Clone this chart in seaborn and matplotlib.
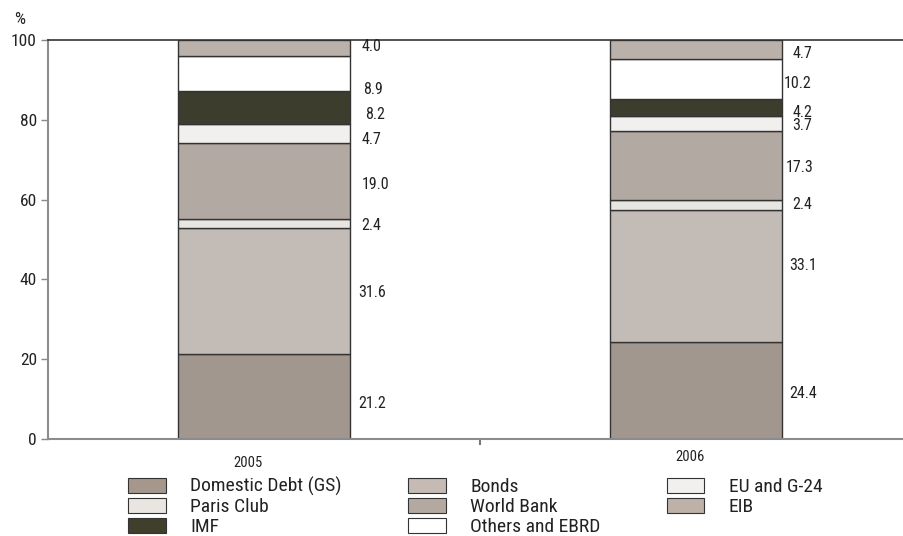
import matplotlib
matplotlib.use("Agg")
import matplotlib.pyplot as plt
from matplotlib import font_manager
from matplotlib.patches import Patch
from matplotlib.transforms import blended_transform_factory
import seaborn as sns
import pandas as pd
import numpy as np

# Debt structure by creditor, share of total (%)
years = ["2005", "2006"]
series = ["Domestic Debt (GS)", "Bonds", "Paris Club", "World Bank",
          "EU and G-24", "IMF", "Others and EBRD", "EIB"]
domestic_debt = [21.2, 24.4]
bonds = [31.6, 33.1]
paris_club = [2.4, 2.4]
world_bank = [19.0, 17.3]
eu_g24 = [4.7, 3.7]
imf = [8.2, 4.2]
others_ebrd = [8.9, 10.2]
eib = [4.0, 4.7]
values = [domestic_debt, bonds, paris_club, world_bank, eu_g24, imf, others_ebrd, eib]

colors = {
    "Domestic Debt (GS)": "#a5978b",
    "Bonds": "#c5bab4",
    "Paris Club": "#e9e6e1",
    "World Bank": "#b4a9a0",
    "EU and G-24": "#f1f0ee",
    "IMF": "#3f3f2b",
    "Others and EBRD": "#ffffff",
    "EIB": "#bdb1a8",
}
legend_order = ["Domestic Debt (GS)", "Paris Club", "IMF",
                "Bonds", "World Bank", "Others and EBRD",
                "EU and G-24", "EIB"]

# value-label placement relative to the bar's right edge / segment centre (pixels)
label_dx = [[8, 8, 11, 11, 11, 15, 13, 11],
            [7, 7, 10, 3, 10, 10, 1, 10]]
label_dy = [[6.4, 1.4, 2.4, 3.4, 6.4, 6.4, 15.4, -1.6],
            [3.4, -10.6, -0.6, 2.4, 2.4, 4.4, 4.4, 4.4]]

sns.set_theme(style="white")
available = {f.name for f in font_manager.fontManager.ttflist}
family = [f for f in ["Liberation Sans Narrow", "Roboto Condensed"] if f in available]
plt.rcParams["font.family"] = family + ["DejaVu Sans"]
plt.rcParams["text.color"] = "#222222"

W, H = 904, 536
fig = plt.figure(figsize=(W / 100, H / 100), dpi=100)
ax = fig.add_axes([48 / W, 1 - 439 / H, 856 / W, 399 / H])

edge = "#333333"
px = 0.72  # points per pixel at 100 dpi
bottom = np.zeros(len(years))
for k, (name, vals) in enumerate(zip(series, values)):
    df = pd.DataFrame({"year": years, "share": vals})
    sns.barplot(data=df, x="year", y="share", order=years, color=colors[name],
                width=0.4, bottom=bottom.copy(), edgecolor=edge, linewidth=1.0,
                errorbar=None, ax=ax)
    for i, v in enumerate(vals):
        ax.annotate(f"{v:.1f}", xy=(i + 0.2, bottom[i] + v / 2),
                    xytext=(label_dx[i][k] * px, -label_dy[i][k] * px),
                    textcoords="offset points",
                    ha="left", va="center", fontsize=11.5, color="#222222")
    bottom += np.array(vals)

ax.set_xlim(-0.5, -0.5 + 856 / 432)
ax.set_ylim(0, 100)
ax.set_yticks([0, 20, 40, 60, 80, 100])
ax.set_xticks([0.5])
ax.set_xticklabels([""])
ax.set_xlabel("")
ax.set_ylabel("")
ax.tick_params(axis="y", which="both", left=True, length=5, width=1,
               color="#888888", labelsize=12.5, labelcolor="#222222", pad=3)
ax.tick_params(axis="x", bottom=True, length=4, width=1.5, color="#777777")
for s in ["left", "bottom"]:
    ax.spines[s].set_color("#8c8c8c")
    ax.spines[s].set_linewidth(1.5)
ax.spines["top"].set_color("#333333")
ax.spines["top"].set_linewidth(1.2)
ax.spines["right"].set_visible(False)

trans = blended_transform_factory(ax.transData, fig.transFigure)
ax.text(-0.037, 1 - 463 / H, years[0], transform=trans, ha="center", va="center", fontsize=10.5)
ax.text(0.986, 1 - 457 / H, years[1], transform=trans, ha="center", va="center", fontsize=10.5)
fig.text(14 / W, 1 - 19 / H, "%", ha="left", va="center", fontsize=12.5)

handles = [Patch(facecolor=colors[n], edgecolor=edge, linewidth=0.8) for n in legend_order]
fig.legend(handles, legend_order, ncol=3, loc="upper left",
           bbox_to_anchor=(128 / W, 1 - 477 / H), frameon=False,
           borderpad=0, borderaxespad=0, handlelength=1.95, handleheight=0.8,
           handletextpad=1.25, columnspacing=3.4, labelspacing=0.1, fontsize=14)

fig.savefig("out.png", dpi=100)
